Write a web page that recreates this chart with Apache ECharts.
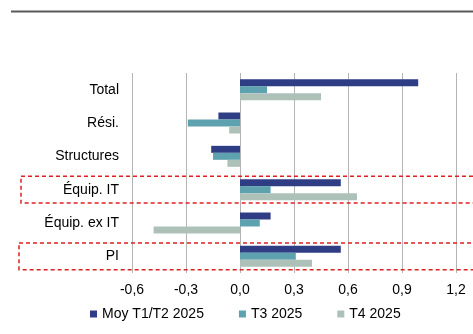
<!DOCTYPE html>
<html>
<head>
<meta charset="utf-8">
<script src="https://cdn.jsdelivr.net/npm/echarts@6/dist/echarts.min.js"></script>
<style>html,body{margin:0;padding:0;background:#fff}#c{width:473px;height:334px}</style>
</head>
<body>
<div id="c"></div>
<script>
var categories = ['Total', 'Rési.', 'Structures', 'Équip. IT', 'Équip. ex IT', 'PI'];
var seriesNames = ['Moy T1/T2 2025', 'T3 2025', 'T4 2025'];
var moyT1T2 = [0.99, -0.12, -0.16, 0.56, 0.17, 0.56];
var t3 = [0.15, -0.29, -0.15, 0.17, 0.11, 0.31];
var t4 = [0.45, -0.06, -0.07, 0.65, -0.48, 0.40];
var highlighted = ['Équip. IT', 'PI'];
var colors = ['#2f3d84', '#5fa2af', '#adc1b9'];
var FONT = '"Liberation Sans", Arial, sans-serif';

var chart = echarts.init(document.getElementById('c'));
var data = [moyT1T2, t3, t4];
chart.setOption({
  animation: false,
  color: colors,
  grid: {left: 132, right: 17, top: 73, bottom: 61, containLabel: false},
  xAxis: {
    type: 'value', min: -0.6, max: 1.2, interval: 0.3,
    axisLine: {show: false}, axisTick: {show: false},
    splitLine: {show: true, lineStyle: {color: '#b4b4b4', width: 1}},
    axisLabel: {fontSize: 14, color: '#000', fontFamily: FONT, margin: 10,
      formatter: function (v) { return (Math.round(v * 10) / 10).toFixed(1).replace('.', ','); }}
  },
  yAxis: {
    type: 'category', data: categories, inverse: true,
    axisLine: {show: false, onZero: false}, axisTick: {show: false},
    axisLabel: {fontSize: 14, color: '#000', fontFamily: FONT, margin: 13}
  },
  legend: {
    data: seriesNames, left: 85, top: 302, icon: 'rect', itemWidth: 7, itemHeight: 7,
    itemGap: 35, textStyle: {fontSize: 14, color: '#000', fontFamily: FONT}
  },
  series: seriesNames.map(function (n, i) {
    return {name: n, type: 'bar', data: data[i], barWidth: 7, barGap: '0%',
      itemStyle: {color: colors[i]}};
  })
});

var band = 200 / categories.length;
var g = [{type: 'line', shape: {x1: 11, y1: 11.5, x2: 473, y2: 11.5},
  style: {stroke: '#5a5a5a', lineWidth: 2}}];
highlighted.forEach(function (c, k) {
  var cy = chart.convertToPixel({yAxisIndex: 0}, c);
  var x0 = k === 0 ? 21 : 19;
  g.push({type: 'rect', shape: {x: x0, y: cy - band * 0.4, width: 470, height: band * 0.8},
    style: {fill: 'none', stroke: '#e02020', lineWidth: 1.5, lineDash: [4, 3]}, z: 100});
});
chart.setOption({graphic: g});
</script>
</body>
</html>
